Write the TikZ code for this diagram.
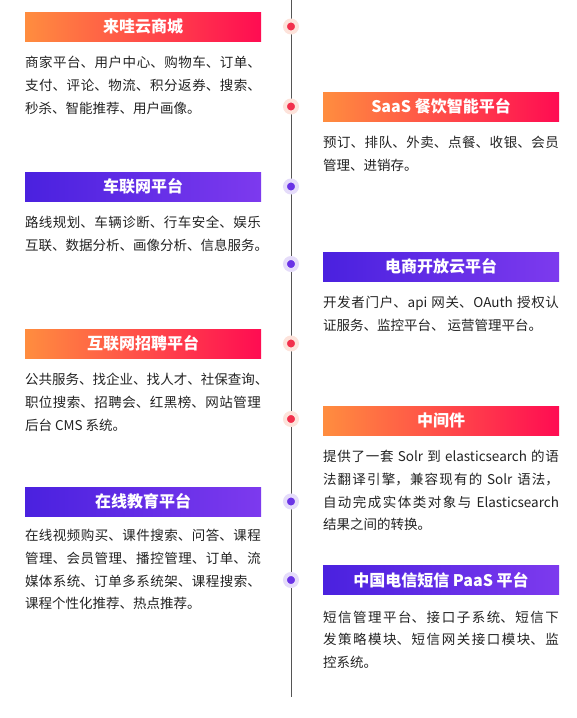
\documentclass[tikz,border=0pt]{standalone}
\usepackage{fontspec}
\setmainfont{Noto Sans CJK SC}
\newfontfamily\cjk{Noto Sans CJK SC}
\usetikzlibrary{calc}
\XeTeXlinebreaklocale "zh"
\XeTeXlinebreakskip = 0pt plus 1pt
% trailing punctuation that hangs past the right edge
\newcommand\hangpunct[1]{\makebox[0.45em][l]{#1}}

\definecolor{orangeL}{HTML}{FF8D3F}
\definecolor{orangeR}{HTML}{FF0C52}
\definecolor{purpleL}{HTML}{4A21DF}
\definecolor{purpleR}{HTML}{7D3AEE}
\definecolor{dotred}{HTML}{F2304C}
\definecolor{halored}{HTML}{FDE3DB}
\definecolor{dotpurple}{HTML}{6A33E6}
\definecolor{halopurple}{HTML}{E5DCFA}
\definecolor{bodygray}{HTML}{222222}
\definecolor{linegray}{HTML}{555555}

\begin{document}
\begin{tikzpicture}[x=1pt, y=-1pt,
    cardhead/.style={minimum width=236pt, minimum height=29pt, inner sep=0pt, text=white,
        font=\cjk\bfseries\fontsize{16pt}{18pt}\selectfont},
    hothead/.style={cardhead, left color=orangeL, right color=orangeR},
    coolhead/.style={cardhead, left color=purpleL, right color=purpleR},
    cardtext/.style={anchor=north west, inner sep=0pt, text width=236pt, align=justify,
        text=bodygray, font=\cjk\fontsize{13.5pt}{22.6pt}\selectfont},
    tldot/.style={circle, inner sep=0pt, minimum size=12pt, line width=4pt},
    hotdot/.style={tldot, fill=dotred, draw=halored},
    cooldot/.style={tldot, fill=dotpurple, draw=halopurple}]

    \useasboundingbox (0,0) rectangle (577,718);

    % timeline
    \coordinate (top) at (291,0);
    \coordinate (bottom) at (291,697);
    \draw[linegray, line width=1pt] (top) -- (bottom);

    % left column
    \node[hothead] (H1) at (143,26.5) {来哇云商城};
    \node[cardtext] (T1) at ($(H1.south west)+(0,15)$) {商家平台、用户中心、购物车、订单、\linebreak
        支付、评论、物流、积分返券、搜索、\linebreak
        秒杀、智能推荐、用户画像。};
    \node[hotdot] (D1) at (291,26.5) {};

    \node[coolhead] (H3) at (143,186.5) {车联网平台};
    \node[cardtext] (T3) at ($(H3.south west)+(0,15)$) {路线规划、车辆诊断、行车安全、娱乐\linebreak
        互联、数据分析、画像分析、信息服务\hangpunct{。}};
    \node[cooldot] (D3) at (291,186.5) {};

    \node[hothead] (H5) at (143,343.5) {互联网招聘平台};
    \node[cardtext] (T5) at ($(H5.south west)+(0,15)$) {公共服务、找企业、找人才、社保查询\hangpunct{、}\linebreak
        职位搜索、招聘会、红黑榜、网站管理\linebreak
        后台 CMS 系统。};
    \node[hotdot] (D5) at (291,343.5) {};

    \node[coolhead] (H7) at (143,501.5) {在线教育平台};
    \node[cardtext] (T7) at ($(H7.south west)+(0,13)$) {在线视频购买、课件搜索、问答、课程\linebreak
        管理、会员管理、播控管理、订单、流\linebreak
        媒体系统、订单多系统架、课程搜索、\linebreak
        课程个性化推荐、热点推荐。};
    \node[cooldot] (D7) at (291,501.5) {};

    % right column
    \node[hothead] (H2) at (441,106.5) {SaaS 餐饮智能平台};
    \node[cardtext] (T2) at ($(H2.south west)+(0,15)$) {预订、排队、外卖、点餐、收银、会员\linebreak
        管理、进销存。};
    \node[hotdot] (D2) at (291,106.5) {};

    \node[coolhead] (H4) at (441,266.5) {电商开放云平台};
    \node[cardtext] (T4) at ($(H4.south west)+(0,15)$) {开发者门户、api 网关、OAuth 授权认\linebreak
        证服务、监控平台、 运营管理平台。};
    \node[cooldot] (D4) at (291,264) {};

    \node[hothead] (H6) at (441,420.5) {中间件};
    \node[cardtext] (T6) at ($(H6.south west)+(0,15)$) {提供了一套 Solr 到 elasticsearch 的语\linebreak
        法翻译引擎，兼容现有的 Solr 语法，\linebreak
        自动完成实体类对象与 Elasticsearch\linebreak
        结果之间的转换。};
    \node[hotdot] (D6) at (291,419) {};

    \node[coolhead] (H8) at (441,580) {中国电信短信 PaaS 平台};
    \node[cardtext] (T8) at ($(H8.south west)+(0,16)$) {短信管理平台、接口子系统、短信下\linebreak
        发策略模块、短信网关接口模块、监\linebreak
        控系统。};
    \node[cooldot] (D8) at (291,580) {};
\end{tikzpicture}
\end{document}
